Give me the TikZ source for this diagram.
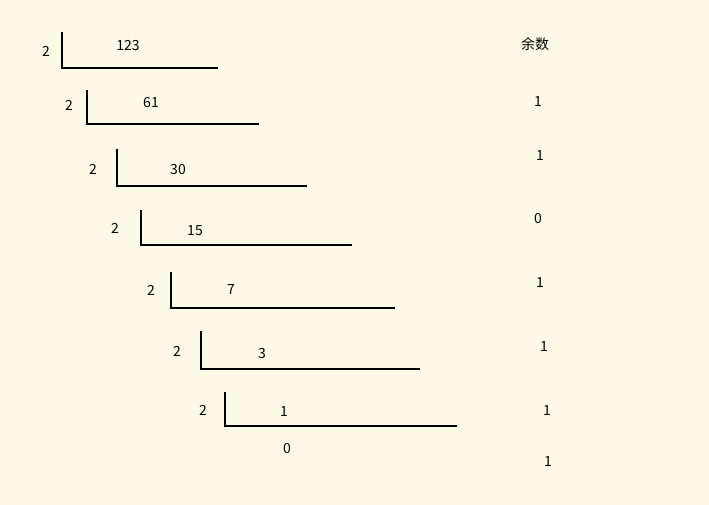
\documentclass[tikz,border=0pt]{standalone}
\usepackage{fontspec}
\setmainfont{Noto Sans CJK SC}
\definecolor{bg}{HTML}{FEF8E6}
\begin{document}
\begin{tikzpicture}[x=1pt,y=-1pt,
  lbl/.style={inner sep=0pt,font=\fontsize{14}{16}\selectfont},
  brk/.style={line width=2pt,line cap=rect}]
\fill[bg] (0,0) rectangle (709,505);
\useasboundingbox (0,0) rectangle (709,505);
% brackets: x of vertical, top y, bottom y, right end x
\foreach \i/\x/\t/\b/\r in {1/62/33/68/217, 2/87/91/124/258, 3/117/150/186/306, 4/141/211/245/351, 5/171/273/308/394, 6/201/332/369/419, 7/225/393/426/456}{
  \coordinate (t\i) at (\x,\t);
  \coordinate (c\i) at (\x,\b);
  \coordinate (e\i) at (\r,\b);
  \draw[brk] (t\i) -- (c\i) -- (e\i);
}
% divisors
\node[lbl] (d1) at (46,51) {2};
\node[lbl] (d2) at (69,105) {2};
\node[lbl] (d3) at (93,169) {2};
\node[lbl] (d4) at (115,228) {2};
\node[lbl] (d5) at (151,290) {2};
\node[lbl] (d6) at (177,351) {2};
\node[lbl] (d7) at (203,410) {2};
% dividends
\node[lbl] (n1) at (128,46) {123};
\node[lbl] (n2) at (151,103) {61};
\node[lbl] (n3) at (178,170) {30};
\node[lbl] (n4) at (195,231) {15};
\node[lbl] (n5) at (231,290) {7};
\node[lbl] (n6) at (262,354) {3};
\node[lbl] (n7) at (284,412) {1};
\node[lbl] (n8) at (287,449) {0};
% remainders
\node[lbl] (rh) at (535,44) {余数};
\node[lbl] (r1) at (538,102) {1};
\node[lbl] (r2) at (540,156) {1};
\node[lbl] (r3) at (538,219) {0};
\node[lbl] (r4) at (540,283) {1};
\node[lbl] (r5) at (544,347) {1};
\node[lbl] (r6) at (547,411) {1};
\node[lbl] (r7) at (548,462) {1};
\end{tikzpicture}
\end{document}
